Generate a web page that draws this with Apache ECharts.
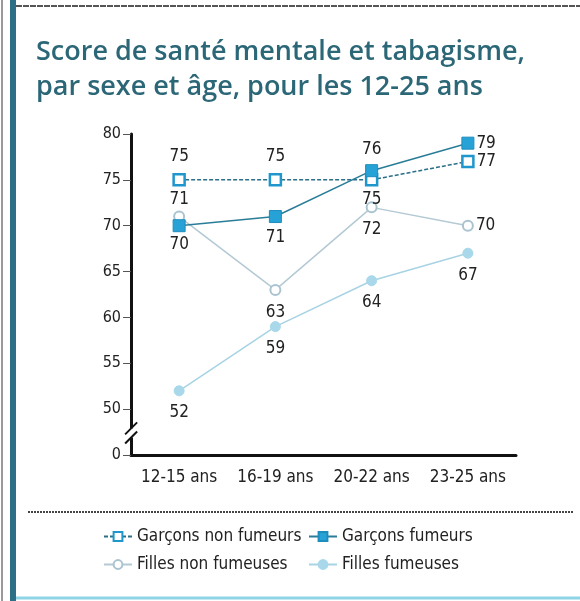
<!DOCTYPE html>
<html>
<head>
<meta charset="utf-8">
<script src="https://cdn.jsdelivr.net/npm/echarts@6/dist/echarts.min.js"></script>
<style>
  html, body { margin: 0; padding: 0; background: #fff; }
  #chart { width: 580px; height: 601px; }
</style>
</head>
<body>
<div id="chart"></div>
<script>
// categories (age groups)
const ages = ['12-15 ans', '16-19 ans', '20-22 ans', '23-25 ans'];

// scores per series
const garconsNonFumeurs = [75, 75, 75, 77];
const garconsFumeurs = [70, 71, 76, 79];
const fillesNonFumeuses = [71, 63, 72, 70];
const fillesFumeuses = [52, 59, 64, 67];

// label placement per point (where the number sits next to the marker)
const posGNF = ['top', 'top', 'bottom', 'right'];
const posGF = ['bottom', 'bottom', 'top', 'right'];
const posFNF = ['top', 'bottom', 'bottom', 'right'];
const posFF = ['bottom', 'bottom', 'bottom', 'bottom'];

// y axis: the lowest tick stands for 0 (axis break), then 50..80
const yMin = 45, yMax = 80, yStep = 5;

const numFont = '"DejaVu Sans Condensed", "Liberation Sans Narrow", "Roboto", sans-serif';

const withLabels = (values, positions, dist) =>
  values.map((v, i) => ({
    value: v,
    label: { position: positions[i], distance: positions[i] === 'right' ? 2 : (dist ? dist[i] : 8) }
  }));

const chart = echarts.init(document.getElementById('chart'));

const labelStyle = {
  show: true,
  color: '#222',
  fontSize: 17,
  fontFamily: numFont
};

const option = {
  backgroundColor: '#fff',
  animation: false,
  title: {
    text: 'Score de santé mentale et tabagisme,\npar sexe et âge, pour les 12-25 ans',
    left: 31,
    top: 30,
    textStyle: {
      color: '#2c6777',
      fontSize: 27,
      fontWeight: 600,
      fontFamily: '"Open Sans", sans-serif',
      lineHeight: 35
    }
  },
  grid: { left: 131, right: 64, top: 134, bottom: 146 },
  xAxis: {
    type: 'category',
    data: ages,
    boundaryGap: true,
    axisLine: { lineStyle: { color: '#111', width: 3 } },
    axisTick: { show: false },
    axisLabel: { color: '#222', fontSize: 17, fontFamily: numFont, margin: 14, interval: 0 },
    splitLine: { show: false }
  },
  yAxis: {
    type: 'value',
    min: yMin,
    max: yMax,
    interval: yStep,
    axisLine: { show: true, lineStyle: { color: '#111', width: 3 } },
    axisTick: { show: true, length: 8, lineStyle: { color: '#555', width: 1 } },
    axisLabel: {
      color: '#222',
      fontSize: 16,
      fontFamily: numFont,
      margin: 10,
      formatter: v => (v === yMin ? '0' : String(v))
    },
    splitLine: { show: false }
  },
  legend: [
    {
      orient: 'vertical',
      left: 98,
      top: 523,
      itemWidth: 28,
      itemHeight: 11,
      itemGap: 11,
      data: ['Garçons non fumeurs', 'Filles non fumeuses'],
      textStyle: { color: '#222', fontSize: 17, fontFamily: numFont }
    },
    {
      orient: 'vertical',
      left: 303,
      top: 523,
      itemWidth: 28,
      itemHeight: 11,
      itemGap: 11,
      data: ['Garçons fumeurs', 'Filles fumeuses'],
      textStyle: { color: '#222', fontSize: 17, fontFamily: numFont }
    }
  ],
  series: [
    {
      name: 'Garçons non fumeurs',
      type: 'line',
      data: withLabels(garconsNonFumeurs, posGNF, [8, 8, 4, 2]),
      symbol: 'rect',
      symbolSize: 11,
      z: 4,
      lineStyle: { color: '#2a6f88', width: 1.5, type: [4, 2] },
      itemStyle: { color: '#fff', borderColor: '#1f97cc', borderWidth: 2.5 },
      label: labelStyle
    },
    {
      name: 'Garçons fumeurs',
      type: 'line',
      data: withLabels(garconsFumeurs, posGF, [4, 6, 6, 2]),
      symbol: 'rect',
      symbolSize: 12,
      z: 5,
      lineStyle: { color: '#2a7d98', width: 1.5 },
      itemStyle: { color: '#27a2d6', borderColor: '#1d8dbd', borderWidth: 1 },
      label: labelStyle
    },
    {
      name: 'Filles non fumeuses',
      type: 'line',
      data: withLabels(fillesNonFumeuses, posFNF, [2, 8, 8, 2]),
      symbol: 'circle',
      symbolSize: 10,
      z: 3,
      lineStyle: { color: '#b3c9d4', width: 1.5 },
      itemStyle: { color: '#fff', borderColor: '#aac3d0', borderWidth: 2 },
      label: labelStyle
    },
    {
      name: 'Filles fumeuses',
      type: 'line',
      data: withLabels(fillesFumeuses, posFF),
      symbol: 'circle',
      symbolSize: 10,
      z: 3,
      lineStyle: { color: '#a8d3e4', width: 1.5 },
      itemStyle: { color: '#a8d8ea', borderColor: '#a8d8ea', borderWidth: 1 },
      label: labelStyle
    }
  ]
};

chart.setOption(option);

// frame decorations and axis break marks, placed from the axis scale
const axisX = chart.convertToPixel({ xAxisIndex: 0 }, 0) - 48;
const yBreakTop = chart.convertToPixel({ yAxisIndex: 0 }, 47.9);
const yBreakBot = chart.convertToPixel({ yAxisIndex: 0 }, 46.9);

chart.setOption({
  graphic: [
    { type: 'rect', shape: { x: 1, y: 0, width: 2, height: 601 }, style: { fill: '#9a9a9a' } },
    { type: 'rect', shape: { x: 10, y: 0, width: 6, height: 601 }, style: { fill: '#2d6f86' } },
    { type: 'line', shape: { x1: 16, y1: 6, x2: 580, y2: 6 }, style: { stroke: '#555', lineWidth: 2, lineDash: [6, 1] } },
    { type: 'line', shape: { x1: 28, y1: 512, x2: 574, y2: 512 }, style: { stroke: '#444', lineWidth: 2, lineDash: [2, 1] } },
    { type: 'line', shape: { x1: 16, y1: 598, x2: 580, y2: 598 }, style: { stroke: '#8fd3e6', lineWidth: 3 } },
    {
      type: 'rect', z: 100,
      shape: { x: axisX - 3, y: yBreakTop, width: 6, height: yBreakBot - yBreakTop },
      style: { fill: '#fff' }
    },
    {
      type: 'line', z: 101,
      shape: { x1: axisX - 6, y1: yBreakTop + 6, x2: axisX + 6, y2: yBreakTop - 6 },
      style: { stroke: '#111', lineWidth: 2 }
    },
    {
      type: 'line', z: 101,
      shape: { x1: axisX - 6, y1: yBreakBot + 6, x2: axisX + 6, y2: yBreakBot - 6 },
      style: { stroke: '#111', lineWidth: 2 }
    }
  ]
});
</script>
</body>
</html>
